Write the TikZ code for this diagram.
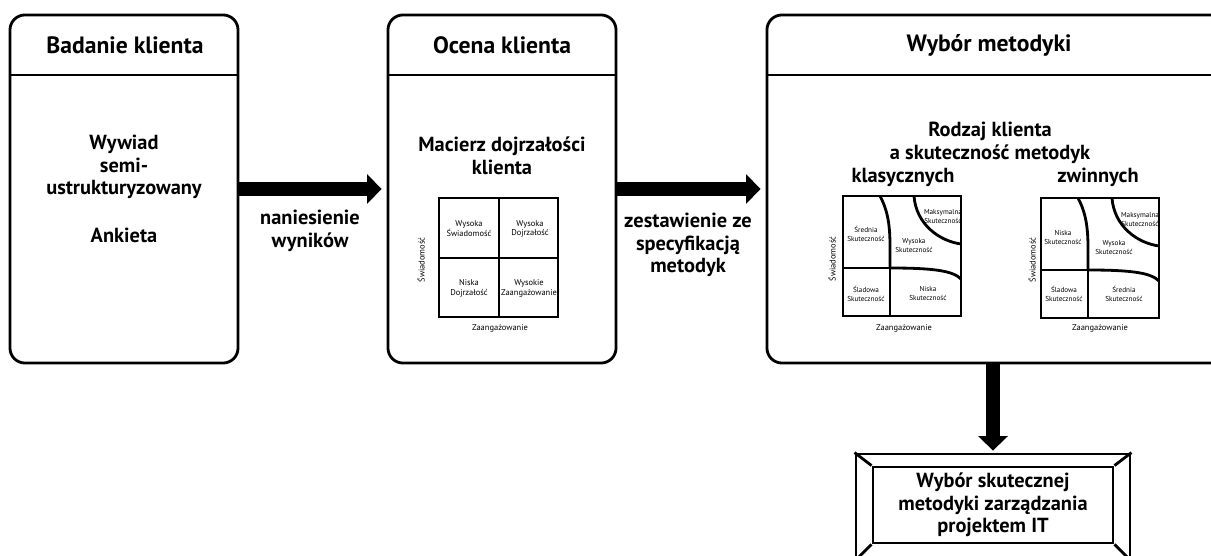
\documentclass[tikz,border=0pt]{standalone}
\usepackage{fontspec}
\setmainfont{PT Sans}
\usetikzlibrary{arrows.meta, calc}

\begin{document}
\begin{tikzpicture}[x=0.025cm, y=-0.025cm]
\tikzset{panel/.style={draw, line width=2pt, rounded corners=0.375cm, minimum height=8.7cm},
         divider/.style={line width=1.6pt},
         flow/.style={line width=0.35cm, -{Triangle[length=0.36cm 0, width=0.72cm 0]}},
         title/.style={font=\bfseries\fontsize{16.8}{19}\selectfont},
         body/.style={font=\bfseries\fontsize{14.5}{16.2}\selectfont, align=center},
         cell/.style={font=\fontsize{6}{7}\selectfont, align=center, inner sep=0pt},
         effcell/.style={font=\fontsize{5.1}{6.4}\selectfont, align=center, inner sep=0pt},
         axis/.style={font=\fontsize{6}{7}\selectfont, inner sep=0pt},
         gridline/.style={line width=1.1pt},
         boldline/.style={line width=2pt}}
\useasboundingbox (0,0) rectangle (1211,556);
\clip (0,0) rectangle (1211,556);

% three stages
\node[panel, minimum width=5.7cm] (badanie) at (124,189) {};
\node[panel, minimum width=5.7cm] (ocena) at (502,189) {};
\node[panel, minimum width=11.45cm] (wybor) at (996,189) {};
\coordinate (hdr) at (0,75);
\draw[divider] (badanie.west |- hdr) -- (badanie.east |- hdr);
\draw[divider] (ocena.west |- hdr) -- (ocena.east |- hdr);
\draw[divider] (wybor.west |- hdr) -- (wybor.east |- hdr);

\node[title] (t1) at (125,45) {Badanie klienta};
\node[title] (t2) at (502,45) {Ocena klienta};
\node[title] (t3) at (989,45) {Wybór metodyki};

\node[body] (wywiad) at (124,167) {Wywiad\\semi-\\ustrukturyzowany};
\node[body] (ankieta) at (124,235) {Ankieta};
\node[body] (macierz) at (502,156) {Macierz dojrzałości\\klienta};
\node[body] (rodzaj) at (990,143) {Rodzaj klienta\\a skuteczność metodyk};
\node[body] (klas) at (903,177) {klasycznych};
\node[body] (zwin) at (1098,177) {zwinnych};

% arrows between stages
\draw[flow, shorten >=0.125cm] (badanie) -- (ocena);
\draw[flow, shorten >=0.125cm] (ocena) -- (wybor);
\node[body] (naniesienie) at (310,231) {naniesienie\\wyników};
\node[body] (zestawienie) at (688,245) {zestawienie ze\\specyfikacją\\metodyk};

% maturity matrix
\draw[gridline] (439,198) rectangle (558,317);
\draw[gridline] (499,198) -- (499,317);
\draw[boldline] (439,258) -- (558,258);
\node[cell] (c11) at (469,229) {Wysoka\\Świadomość};
\node[cell] (c12) at (530,229) {Wysoka\\Dojrzałość};
\node[cell] (c21) at (469,288) {Niska\\Dojrzałość};
\node[cell] (c22) at (529,288) {Wysokie\\Zaangażowanie};
\node[axis, rotate=90] (osy) at (421,260) {Świadomość};
\node[axis] (osx) at (500,328) {Zaangażowanie};

% effectiveness matrices
\foreach \ox/\oy in {843/196, 1041/198}{
  \begin{scope}[shift={(\ox,\oy)}]
    \draw[gridline] (0,0) rectangle (118,120);
    \draw[boldline] (0,72) rectangle (47,120);
    \draw[boldline] (37,0) .. controls (45,15) and (47,30) .. (47,50) -- (47,72);
    \draw[boldline] (47,72) .. controls (92,72) and (110,75) .. (118,83);
    \draw[boldline] (71,0) .. controls (73,28) and (96,45) .. (118,48);
  \end{scope}
}
\node[effcell] (k1) at (866,234) {Średnia\\Skuteczność};
\node[effcell] (k2) at (943,217) {Maksymalna\\Skuteczność};
\node[effcell] (k3) at (914,246) {Wysoka\\Skuteczność};
\node[effcell] (k4) at (866,294) {Śladowa\\Skuteczność};
\node[effcell] (k5) at (928,293) {Niska\\Skuteczność};
\node[axis, rotate=90] (ky) at (832,259) {Świadomość};
\node[axis] (kx) at (904,328) {Zaangażowanie};

\node[effcell] (z1) at (1063,237) {Niska\\Skuteczność};
\node[effcell] (z2) at (1140,220) {Maksymalna\\Skuteczność};
\node[effcell] (z3) at (1114,248) {Wysoka\\Skuteczność};
\node[effcell] (z4) at (1064,294) {Śladowa\\Skuteczność};
\node[effcell] (z5) at (1124,294) {Średnia\\Skuteczność};
\node[axis, rotate=90] (zy) at (1032,260) {Świadomość};
\node[axis] (zx) at (1100,328) {Zaangażowanie};

% final result
\node[draw, line width=2pt, minimum width=6.85cm, minimum height=2.65cm] (final) at (993,507) {};
\node[draw, line width=2pt, minimum width=6cm, minimum height=1.9cm, body] (wynik) at (993,505) {Wybór skutecznej\\metodyki zarządzania\\projektem IT};
\draw[line width=2pt] (final.north west) -- (wynik.north west);
\draw[line width=2pt] (final.north east) -- (wynik.north east);
\draw[line width=2pt] (final.south west) -- (wynik.south west);
\draw[line width=2pt] (final.south east) -- (wynik.south east);
\draw[flow, shorten >=0.05cm] (wybor.south -| final) -- (final);

\end{tikzpicture}
\end{document}
